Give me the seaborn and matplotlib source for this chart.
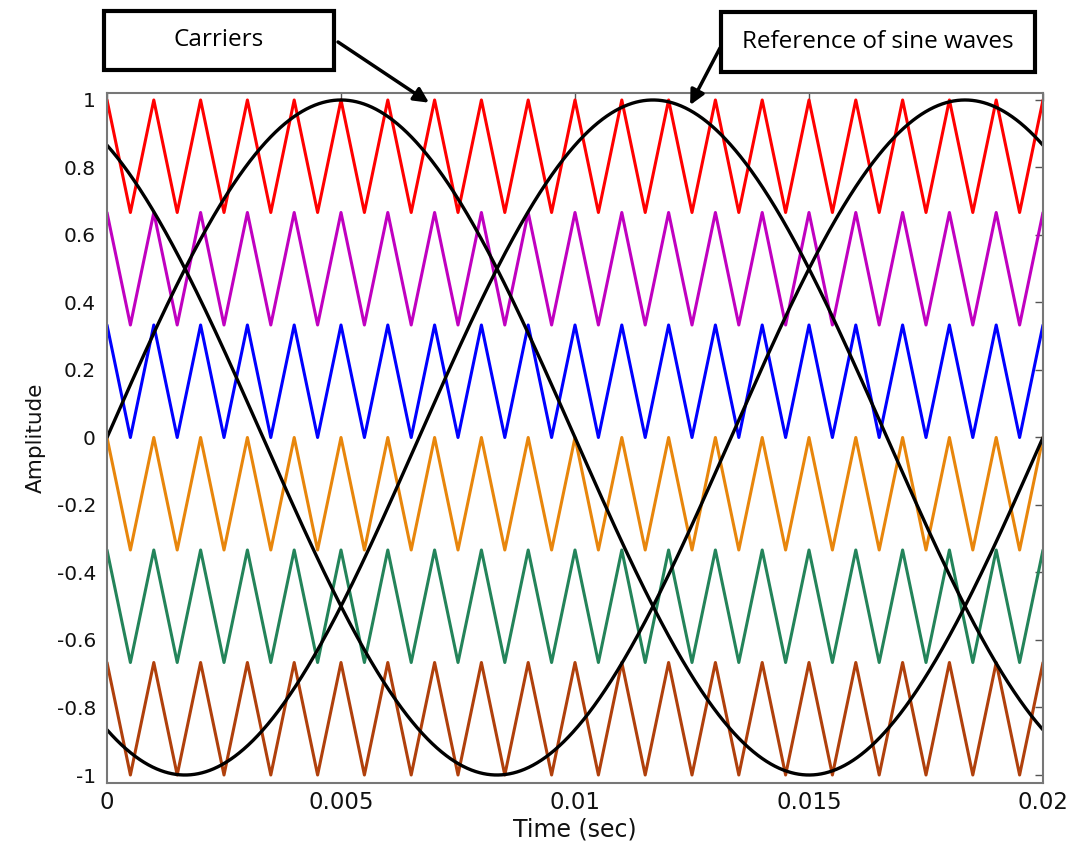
import numpy as np
import matplotlib
matplotlib.use("Agg")
import matplotlib.pyplot as plt
import seaborn as sns
import pandas as pd
from matplotlib.patches import Rectangle

# ---- data ----
t_start, t_end = 0.0, 0.02          # seconds
carrier_freq = 1000.0               # Hz (peaks at every 1 ms)
carrier_lower = [2/3, 1/3, 0.0, -1/3, -2/3, -1.0]
carrier_upper = [1.0, 2/3, 1/3, 0.0, -1/3, -2/3]
carrier_colors = ["#ff0000", "#c000c0", "#0000ff", "#e8860c", "#23845a", "#b0400c"]
sine_freq = 50.0                    # Hz
sine_amp = 1.0
sine_phase_deg = [0.0, -120.0, 120.0]
x_ticks = [0, 0.005, 0.01, 0.015, 0.02]
x_tick_labels = ["0", "0.005", "0.01", "0.015", "0.02"]
y_ticks = [1, 0.8, 0.6, 0.4, 0.2, 0, -0.2, -0.4, -0.6, -0.8, -1]
y_tick_labels = ["1", "0.8", "0.6", "0.4", "0.2", "0", "-0.2", "-0.4", "-0.6", "-0.8", "-1"]

sns.set_theme(style="white")
plt.rcParams['font.family'] = ['DejaVu Sans']

fig = plt.figure(figsize=(10.8, 8.49), dpi=100)
ax = fig.add_axes([107/1080, 1-783/849, (1043-107)/1080, (783-93)/849])

t = np.linspace(t_start, t_end, 2001)
phase = (t * carrier_freq) % 1.0
tri = np.abs(2*phase - 1)  # 1 at peaks, 0 at troughs

rows = []
for i, (lo, hi) in enumerate(zip(carrier_lower, carrier_upper)):
    rows.append(pd.DataFrame({"t": t, "v": lo + (hi - lo) * tri, "s": f"c{i}"}))
car = pd.concat(rows)
sns.lineplot(data=car, x="t", y="v", hue="s", palette=carrier_colors,
             linewidth=2.2, legend=False, ax=ax)

srows = []
for j, ph in enumerate(sine_phase_deg):
    srows.append(pd.DataFrame({"t": t, "v": sine_amp*np.sin(2*np.pi*sine_freq*t + np.deg2rad(ph)), "s": f"s{j}"}))
sdf = pd.concat(srows)
sns.lineplot(data=sdf, x="t", y="v", hue="s", palette=["black"]*3,
             linewidth=2.4, legend=False, ax=ax)

ax.set_xlim(0, 0.02)
ax.set_ylim(-1.0237, 1.0207)
ax.set_xticks(x_ticks)
ax.set_xticklabels(x_tick_labels)
ax.set_yticks(y_ticks)
ax.set_yticklabels(y_tick_labels)
ax.tick_params(direction="in", length=6, width=1, color="#555555",
               top=True, right=True, labelcolor="#111111")
ax.tick_params(axis="x", labelsize=16.5, pad=6)
ax.tick_params(axis="y", labelsize=14.5, pad=8)
for sp in ax.spines.values():
    sp.set_color("#777777")
    sp.set_linewidth(1.5)
ax.set_xlabel("Time (sec)", fontsize=17, color="#111111", labelpad=2)
ax.set_ylabel("Amplitude", fontsize=15.5, color="#111111", labelpad=8)

def box(x0, y0, x1, y1, text):
    fig.patches.append(Rectangle((x0/1080, 1-y1/849), (x1-x0)/1080, (y1-y0)/849,
                                 transform=fig.transFigure, fill=False,
                                 edgecolor="black", linewidth=3))
    fig.text((x0+x1)/2/1080, 1-(y0+y1)/2/849, text, ha="center", va="center",
             fontsize=17.5, family="Open Sans", color="black")

box(104, 11, 334, 70, "Carriers")
box(721, 12, 1035, 72, "Reference of sine waves")

arrow = dict(arrowstyle="-|>", lw=2.5, color="black", mutation_scale=22,
             shrinkA=0, shrinkB=0)
ax.annotate("", xy=(0.00688, 0.992), xycoords="data",
            xytext=(338/1080, 1-42/849), textcoords="figure fraction",
            arrowprops=arrow)
ax.annotate("", xy=(0.01246, 0.985), xycoords="data",
            xytext=(720/1080, 1-48/849), textcoords="figure fraction",
            arrowprops=arrow)

fig.savefig("out.png", dpi=100)
